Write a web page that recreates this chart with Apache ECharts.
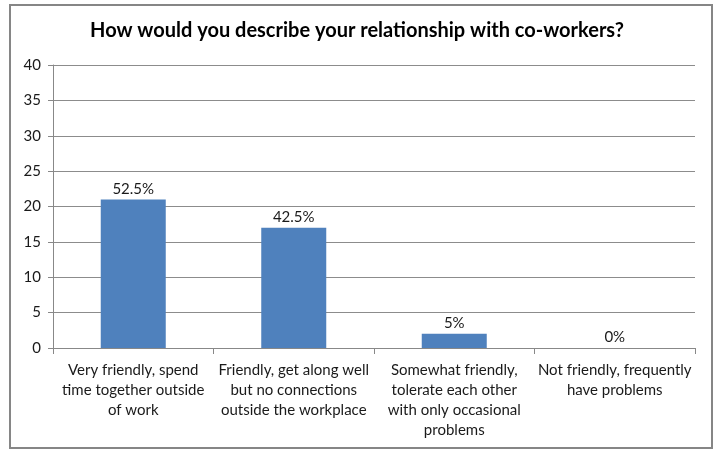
<!DOCTYPE html>
<html>
<head>
<meta charset="utf-8">
<script src="https://cdn.jsdelivr.net/npm/echarts@6/dist/echarts.min.js"></script>
<style>
  html, body { margin: 0; padding: 0; background: #fff; }
  #main { width: 714px; height: 450px; }
</style>
</head>
<body>
<div id="main"></div>
<script>
var categories = [
  'Very friendly, spend\ntime together outside\nof work',
  'Friendly, get along well\nbut no connections\noutside the workplace',
  'Somewhat friendly,\ntolerate each other\nwith only occasional\nproblems',
  'Not friendly, frequently\nhave problems'
];
var counts = [21, 17, 2, 0];
var pctLabels = ['52.5%', '42.5%', '5%', '0%'];
var yTicks = { min: 0, max: 40, interval: 5 };

var chart = echarts.init(document.getElementById('main'));
var fontFam = 'Lato, "Open Sans", sans-serif';

var option = {
  animation: false,
  title: {
    text: 'How would you describe your relationship with co-workers?',
    left: 'center',
    top: 16,
    textStyle: { fontFamily: fontFam, fontSize: 20, fontWeight: 'bold', color: '#000' }
  },
  graphic: [{
    type: 'rect',
    shape: { x: 10, y: 5, width: 702, height: 443 },
    style: { fill: 'none', stroke: '#868686', lineWidth: 2 },
    silent: true
  }],
  grid: { left: 53, right: 19, top: 65, bottom: 102 },
  xAxis: {
    type: 'category',
    data: categories,
    axisLine: { lineStyle: { color: '#888' } },
    axisTick: { show: true, length: 6, lineStyle: { color: '#888' } },
    axisLabel: {
      interval: 0,
      color: '#1a1a1a',
      fontFamily: fontFam,
      fontSize: 15,
      lineHeight: 20,
      margin: 12
    }
  },
  yAxis: {
    type: 'value',
    min: yTicks.min,
    max: yTicks.max,
    interval: yTicks.interval,
    axisLine: { show: true, lineStyle: { color: '#888' } },
    axisTick: { show: true, length: 5, lineStyle: { color: '#888' } },
    splitLine: { lineStyle: { color: '#8c8c8c' } },
    axisLabel: { color: '#1a1a1a', fontFamily: fontFam, fontSize: 15, margin: 12 }
  },
  series: [{
    type: 'bar',
    data: counts,
    barWidth: 65,
    itemStyle: { color: '#4F81BD' },
    label: {
      show: true,
      position: 'top',
      distance: 3,
      color: '#1a1a1a',
      fontFamily: fontFam,
      fontSize: 15,
      formatter: function(p) { return pctLabels[p.dataIndex]; }
    }
  }]
};
chart.setOption(option);
</script>
</body>
</html>
